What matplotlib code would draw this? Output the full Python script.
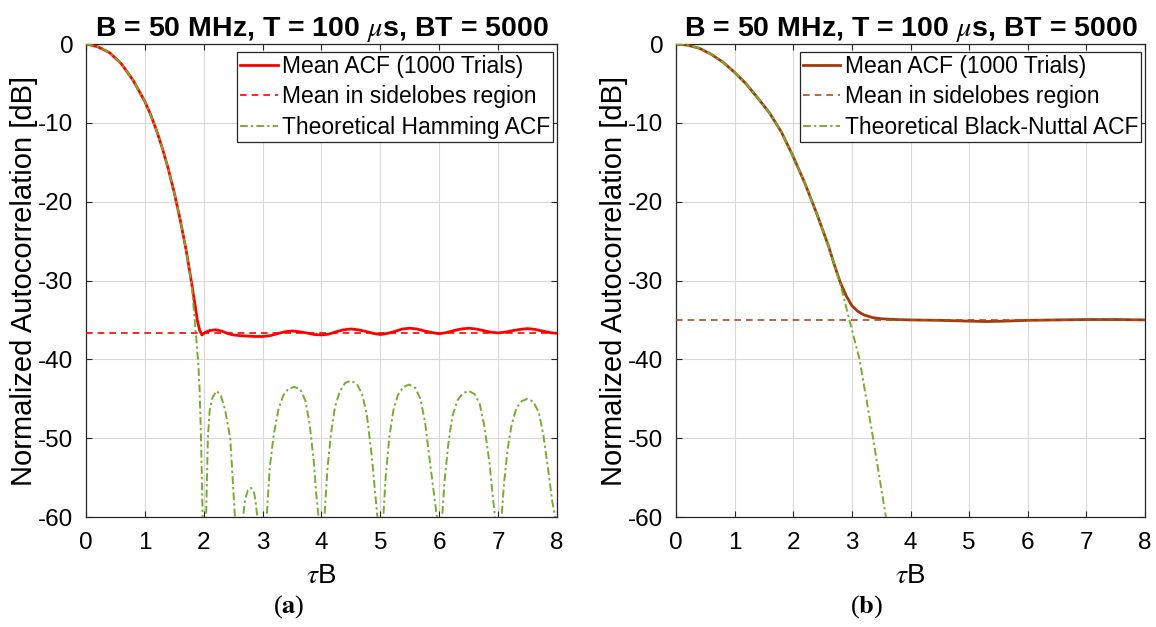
import numpy as np
import matplotlib
matplotlib.use("Agg")
import matplotlib.pyplot as plt

plt.rcParams['font.family'] = ['Liberation Sans', 'DejaVu Sans']
plt.rcParams['mathtext.fontset'] = 'stix'
plt.rcParams['axes.unicode_minus'] = False

# ---- panel (a): Hamming ----
# mean ACF over 1000 trials
tau_a = [0.0, 0.2, 0.4, 0.6, 0.8, 1.0, 1.1, 1.2, 1.3, 1.4, 1.5, 1.6, 1.7, 1.8,
         1.85, 1.89, 1.93, 1.97, 2.02, 2.1, 2.2, 2.3, 2.4, 2.5, 2.625, 2.75, 2.875,
         3.0, 3.125, 3.25, 3.375, 3.5, 3.625, 3.75, 3.875,
         4.0, 4.125, 4.25, 4.375, 4.5, 4.625, 4.75, 4.875,
         5.0, 5.125, 5.25, 5.375, 5.5, 5.625, 5.75, 5.875,
         6.0, 6.125, 6.25, 6.375, 6.5, 6.625, 6.75, 6.875,
         7.0, 7.125, 7.25, 7.375, 7.5, 7.625, 7.75, 7.875, 8.0]
acf_a = [0.0, -0.35, -1.1, -2.5, -4.6, -7.3, -9.0, -11.0, -13.3, -15.9, -18.9, -22.3, -26.1, -30.6,
         -33.0, -35.0, -36.3, -36.9, -36.6, -36.35, -36.25, -36.4, -36.7, -36.9, -37.0, -37.05, -37.1,
         -37.1, -37.0, -36.75, -36.5, -36.4, -36.5, -36.65, -36.85,
         -36.9, -36.8, -36.5, -36.25, -36.15, -36.25, -36.45, -36.7,
         -36.85, -36.7, -36.45, -36.15, -36.05, -36.15, -36.4, -36.6,
         -36.75, -36.6, -36.35, -36.15, -36.05, -36.15, -36.35, -36.55,
         -36.65, -36.55, -36.35, -36.2, -36.1, -36.2, -36.4, -36.6, -36.7]
mean_sl_a = -36.7

# theoretical Hamming ACF (values below -60 dB are clipped by the axes)
theo_tau_a = [0.0, 0.2, 0.4, 0.6, 0.8, 1.0, 1.1, 1.2, 1.3, 1.4, 1.5, 1.6, 1.7, 1.8,
              1.85, 1.88, 1.91, 1.93, 1.95, 1.97, 1.98, 1.995,
              2.01, 2.04, 2.07, 2.10, 2.15, 2.22, 2.29, 2.36, 2.45, 2.53, 2.56,
              2.62, 2.67, 2.70, 2.75, 2.80, 2.85, 2.88, 2.91, 2.95,
              3.01, 3.07, 3.12, 3.19, 3.27, 3.35, 3.44, 3.54, 3.64, 3.73, 3.80, 3.87, 3.91, 3.95, 4.0,
              4.01, 4.05, 4.10, 4.16, 4.23, 4.31, 4.40, 4.50, 4.60, 4.69, 4.77, 4.85, 4.90, 4.95, 5.0,
              5.01, 5.05, 5.09, 5.15, 5.22, 5.30, 5.39, 5.49, 5.59, 5.68, 5.76, 5.85, 5.91, 5.96, 6.0,
              6.01, 6.05, 6.09, 6.15, 6.22, 6.31, 6.40, 6.50, 6.60, 6.69, 6.77, 6.86, 6.91, 6.95, 7.0,
              7.02, 7.06, 7.10, 7.16, 7.23, 7.31, 7.40, 7.50, 7.60, 7.69, 7.77, 7.86, 7.92, 7.97, 8.0]
theo_a = [0.0, -0.35, -1.1, -2.5, -4.6, -7.3, -9.0, -11.0, -13.3, -15.9, -18.9, -22.3, -26.1, -31.0,
          -35.3, -38.0, -40.8, -44.0, -49.0, -55.5, -60.0, -80.0,
          -70.0, -60.0, -50.0, -46.5, -44.8, -44.0, -44.6, -46.3, -50.0, -60.0, -75.0,
          -75.0, -60.0, -57.8, -56.6, -56.3, -56.7, -58.0, -60.0, -75.0,
          -75.0, -60.0, -53.8, -49.5, -46.3, -44.6, -43.7, -43.5, -43.8, -45.3, -48.3, -53.0, -57.0, -60.0, -80.0,
          -75.0, -60.0, -54.0, -49.5, -46.0, -44.1, -43.0, -42.7, -43.1, -44.4, -47.0, -52.0, -56.0, -60.0, -80.0,
          -75.0, -60.0, -55.0, -50.0, -46.5, -44.5, -43.5, -43.2, -43.6, -45.0, -48.0, -53.5, -57.0, -60.0, -80.0,
          -75.0, -60.0, -55.5, -51.0, -47.3, -45.2, -44.3, -44.0, -44.4, -45.7, -48.6, -53.5, -57.5, -60.0, -80.0,
          -75.0, -60.0, -55.8, -51.5, -48.3, -46.2, -45.3, -45.0, -45.4, -46.7, -49.6, -54.5, -58.0, -60.0, -80.0]

# ---- panel (b): Blackman-Nuttall ----
tau_b = [0.0, 0.2, 0.4, 0.6, 0.8, 1.0, 1.2, 1.4, 1.6, 1.8, 2.0, 2.2, 2.4, 2.6,
         2.7, 2.8, 2.9, 3.0, 3.1, 3.2, 3.35, 3.5, 3.75, 4.0, 4.5, 5.0, 5.3, 5.6,
         6.0, 6.5, 7.0, 7.5, 8.0]
acf_b = [0.0, -0.15, -0.55, -1.3, -2.3, -3.6, -5.1, -6.9, -8.8, -11.2, -14.3, -17.7, -21.5, -25.6,
         -28.0, -30.2, -31.9, -33.2, -33.9, -34.35, -34.7, -34.85, -34.95, -35.0, -35.05, -35.15, -35.2, -35.15,
         -35.05, -35.0, -34.95, -34.95, -35.0]
mean_sl_b = -35.0

theo_tau_b = [0.0, 0.2, 0.4, 0.6, 0.8, 1.0, 1.2, 1.4, 1.6, 1.8, 2.0, 2.2, 2.4, 2.6,
              2.8, 2.95, 3.13, 3.35, 3.58, 3.62]
theo_b = [0.0, -0.15, -0.55, -1.3, -2.3, -3.6, -5.1, -6.9, -8.8, -11.2, -14.3, -17.7, -21.5, -25.6,
          -30.4, -34.8, -40.0, -49.5, -60.0, -62.0]

title_txt = r'B = 50 MHz, T = 100 $\mu$s, BT = 5000'
xticks = np.arange(0, 9, 1)
yticks = np.arange(-60, 1, 10)

green = '#77AC30'
dashdot = (0, (4, 1.6, 1.2, 1.6))

fig = plt.figure(figsize=(11.56, 6.27), dpi=100)
ax1 = fig.add_axes([0.0744, 0.1754, 0.4074, 0.7544])
ax2 = fig.add_axes([0.5848, 0.1754, 0.4057, 0.7544])


def style(ax):
    ax.set_xlim(0, 8)
    ax.set_ylim(-60, 0)
    ax.set_xticks(xticks)
    ax.set_yticks(yticks)
    ax.grid(True, color='#d8d8d8', linewidth=0.8)
    ax.set_axisbelow(True)
    ax.tick_params(direction='in', top=True, right=True, length=4, width=0.8,
                   labelsize=17.5, colors='#262626', labelcolor='black')
    ax.tick_params(axis='x', pad=11)
    ax.tick_params(axis='y', pad=9)
    for s in ax.spines.values():
        s.set_color('#262626')
        s.set_linewidth(0.9)
    ax.set_title(title_txt, fontsize=20.5, fontweight='bold', pad=6)
    ax.set_xlabel(r'$\tau$B', fontsize=20, labelpad=6)
    ax.set_ylabel('Normalized Autocorrelation [dB]', fontsize=21, labelpad=0)


ax1.plot(tau_a, acf_a, color='#FF0000', lw=2.0, label='Mean ACF (1000 Trials)', zorder=3)
ax1.plot([0, 8], [mean_sl_a, mean_sl_a], color='#FF0000', lw=1.2, ls=(0, (4, 3)),
         label='Mean in sidelobes region', zorder=4)
ax1.plot(theo_tau_a, theo_a, color=green, lw=1.4, ls=dashdot,
         label='Theoretical Hamming ACF', zorder=5)
style(ax1)

brown = '#A3390A'
ax2.plot(tau_b, acf_b, color=brown, lw=2.0, label='Mean ACF (1000 Trials)', zorder=3)
ax2.plot([0, 8], [mean_sl_b, mean_sl_b], color='#B04A1C', lw=1.2, ls=(0, (4, 3)),
         label='Mean in sidelobes region', zorder=4)
ax2.plot(theo_tau_b, theo_b, color=green, lw=1.4, ls=dashdot,
         label='Theoretical Black-Nuttal ACF', zorder=5)
style(ax2)

for ax in (ax1, ax2):
    leg = ax.legend(loc='upper right', bbox_to_anchor=(0.992, 0.983), fontsize=16.5,
                    handlelength=1.65, handletextpad=0.2, labelspacing=0.33,
                    borderpad=0.12, borderaxespad=0, fancybox=False, framealpha=1)
    leg.get_frame().set_edgecolor('#262626')
    leg.get_frame().set_linewidth(0.9)

fig.text(0.25, 0.032, r'($\mathbf{a}$)', fontsize=19, family='Liberation Serif',
         ha='center', va='center')
fig.text(0.75, 0.032, r'($\mathbf{b}$)', fontsize=19, family='Liberation Serif',
         ha='center', va='center')

fig.savefig('out.png', dpi=100)
